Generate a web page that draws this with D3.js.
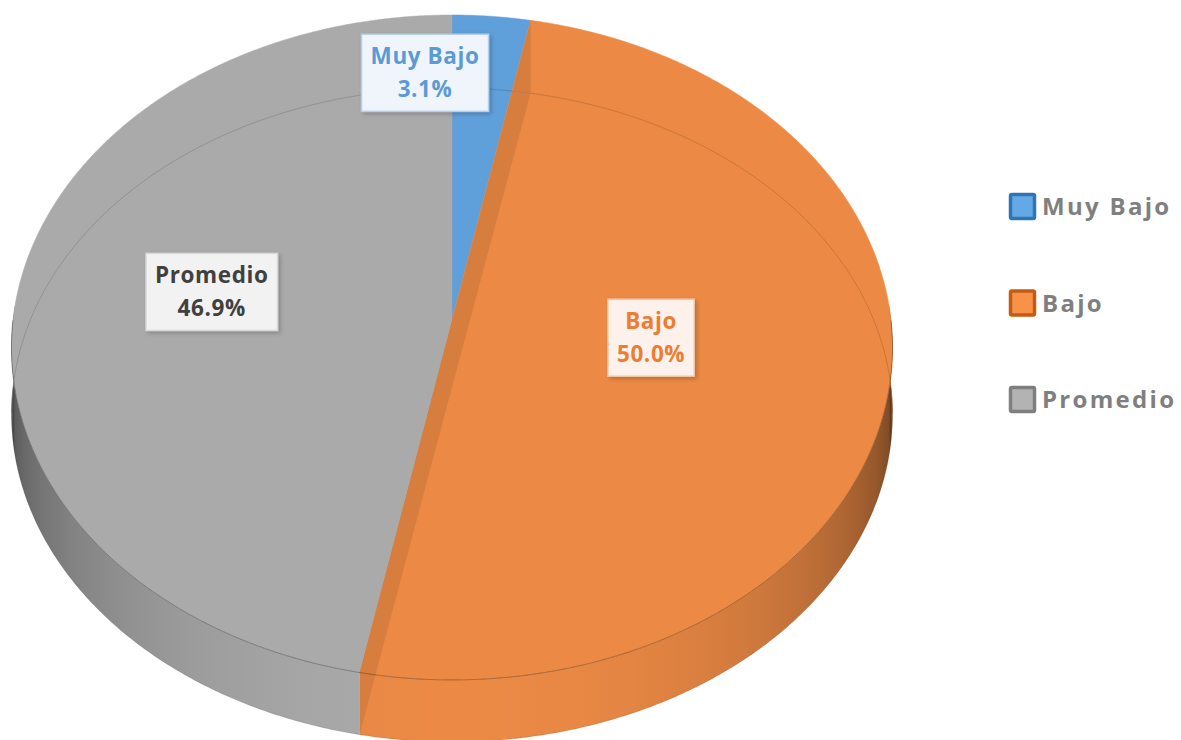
<!DOCTYPE html>
<html>
<head>
<meta charset="utf-8">
<script src="https://cdn.jsdelivr.net/npm/d3@7"></script>
<style>
  html, body { margin: 0; background: #ffffff; }
  svg { display: block; }
</style>
</head>
<body>
<svg id="chart" width="1181" height="740"></svg>
<script>
// ---- data ----
const categories = ["Muy Bajo", "Bajo", "Promedio"];
const percentages = [3.1, 50.0, 46.9];

// ---- styling ----
const sliceColors  = ["#5F9FDA", "#EC8A45", "#AAAAAA"];
const labelInk     = ["#5B9BD5", "#ED7D31", "#404040"];
const labelFill    = ["#F0F5FB", "#FDF2EB", "#F2F2F2"];
const labelBorder  = ["#B5D1EC", "#F5C6A4", "#D9D9D9"];
const legendStroke = ["#2E75B6", "#C55A11", "#7F7F7F"];
const FONT = "'Open Sans', 'DejaVu Sans', sans-serif";

const svg = d3.select("#chart");

// ---- tilted disc in perspective ----
// theta: clockwise from 12 o'clock, r: 0..1, level: 0 = top face, 1 = bottom face
const geo = { cx: 452, cy: 320, A: 439, B: 330.2, c: 0.0826, dropMid: 67.5, dropSlope: 5.5 };
function proj(theta, r, level) {
  const u = r * Math.sin(theta), v = r * Math.cos(theta);
  const d = 1 + geo.c * v;
  const drop = level ? level * (geo.dropMid + geo.dropSlope * v) : 0;
  return [geo.cx + geo.A * u / d, geo.cy - geo.B * v / d + drop];
}
function unproj(x, y) {
  const Y = (geo.cy - y) / geo.B, X = (x - geo.cx) / geo.A;
  const v = Y / (1 - geo.c * Y);
  const u = X * (1 + geo.c * v);
  let t = Math.atan2(u, v);
  if (t < 0) t += 2 * Math.PI;
  return t;
}
function arcPts(a0, a1, r, level) {
  const n = Math.max(2, Math.ceil((a1 - a0) / (Math.PI / 360)));
  return d3.range(n + 1).map(i => proj(a0 + (a1 - a0) * i / n, r, level));
}

const arcs = d3.pie().sort(null).value(d => d)(percentages);
const line = d3.line();
const sliceAt = t => arcs.findIndex(a => t >= a.startAngle && t < a.endAngle);

const defs = svg.append("defs");
const shadow = defs.append("filter").attr("id", "boxShadow")
  .attr("x", "-20%").attr("y", "-20%").attr("width", "150%").attr("height", "150%");
shadow.append("feDropShadow").attr("dx", 2).attr("dy", 2).attr("stdDeviation", 2.2)
  .attr("flood-color", "#000").attr("flood-opacity", 0.22);

// ---- outer side wall: horizontal gradient, darker where the wall turns away ----
const xL = proj(3 * Math.PI / 2 - 0.08, 1, 0)[0] - 2, xR = proj(Math.PI / 2 + 0.08, 1, 0)[0] + 2;
function shadeK(theta) {
  const s = Math.max(0, Math.min(1, (-Math.cos(theta) + 0.08) / 1.08));
  return 0.30 + 0.70 * Math.pow(s, 0.8);
}
const shadeStops = d3.range(0, 181, 3).map(deg => {
  const t = Math.PI / 2 + deg * Math.PI / 180;
  const x = proj(t, 1, 0)[0];
  return { off: Math.max(0, Math.min(1, (x - xL) / (xR - xL))), k: shadeK(t) };
}).sort((p, q) => p.off - q.off);
sliceColors.forEach((col, i) => {
  const g = defs.append("linearGradient").attr("id", "side" + i)
    .attr("gradientUnits", "userSpaceOnUse")
    .attr("x1", xL).attr("x2", xR).attr("y1", 0).attr("y2", 0);
  const b = d3.rgb(col);
  g.selectAll("stop").data(shadeStops).join("stop")
    .attr("offset", s => s.off)
    .attr("stop-color", s => d3.rgb(b.r * s.k, b.g * s.k, b.b * s.k).formatHex());
});
const frontLo = Math.acos(0.05), frontHi = 2 * Math.PI - Math.acos(0.05);
const sides = arcs.map((a, i) => ({ i, t0: Math.max(a.startAngle, frontLo), t1: Math.min(a.endAngle, frontHi) }))
  .filter(s => s.t1 > s.t0);
svg.append("g").selectAll("path").data(sides).join("path")
  .attr("d", s => line([...arcPts(s.t0, s.t1, 1, 0), ...arcPts(s.t0, s.t1, 1, 1).reverse()]) + "Z")
  .attr("fill", s => `url(#side${s.i})`);

// ---- top faces ----
svg.append("g").selectAll("path").data(arcs).join("path")
  .attr("d", a => line([proj(0, 0, 0), ...arcPts(a.startAngle, a.endAngle, 1, 0)]) + "Z")
  .attr("fill", (a, i) => sliceColors[i])
  .attr("stroke", (a, i) => sliceColors[i])
  .attr("stroke-width", 0.5);

// ---- bottom rim of the far wall, showing faintly through the top ----
svg.append("g").selectAll("path").data(arcs).join("path")
  .attr("d", a => {
    const seg = [];
    const n = Math.max(2, Math.ceil((a.endAngle - a.startAngle) / (Math.PI / 360)));
    for (let k = 0; k <= n; k++) {
      const t = a.startAngle + (a.endAngle - a.startAngle) * k / n;
      seg.push(Math.cos(t) > -geo.c ? proj(t, 1, 1) : null);
    }
    return d3.line().defined(p => p)(seg);
  })
  .attr("fill", "none")
  .attr("stroke", (a, i) => d3.rgb(sliceColors[i]).darker(0.8))
  .attr("stroke-opacity", 0.6)
  .attr("stroke-width", 1);

// ---- radial walls seen through the top ----
const walls = arcs.map(a => a.startAngle);
svg.append("g").selectAll("path").data(walls).join("path")
  .attr("d", t => line([proj(t, 0, 0), proj(t, 1, 0), proj(t, 1, 1), proj(t, 0, 1)]) + "Z")
  .attr("fill", t => {
    const m = proj(t, 0.5, 0.5);
    const j = sliceAt(unproj(m[0], m[1]));
    return d3.rgb(sliceColors[j < 0 ? 0 : j]).darker(0.35);
  })
  .attr("fill-opacity", 0.75);

// ---- rim outlines ----
svg.append("path")
  .attr("d", line(arcPts(Math.PI / 2, 3 * Math.PI / 2, 1, 0)))
  .attr("fill", "none").attr("stroke", "#000").attr("stroke-opacity", 0.3).attr("stroke-width", 1);
svg.append("path")
  .attr("d", line(arcPts(Math.PI / 2, 3 * Math.PI / 2, 1, 1)))
  .attr("fill", "none").attr("stroke", "#000").attr("stroke-opacity", 0.12).attr("stroke-width", 1);

// ---- data labels ----
const labelSpots = [
  { r: 0.8,  dx: -59, dy: -1 },
  { r: 0.5,  dx: -18, dy: -15 },
  { r: 0.55, dx: -1,  dy: -11 }
];
const fmt = d3.format(".1f");
const labels = svg.append("g").selectAll("g").data(arcs).join("g")
  .attr("transform", (a, i) => {
    const mid = (a.startAngle + a.endAngle) / 2;
    const p = proj(mid, labelSpots[i].r, 0);
    return `translate(${p[0] + labelSpots[i].dx},${p[1] + labelSpots[i].dy})`;
  });
labels.append("rect")
  .attr("fill", (a, i) => labelFill[i])
  .attr("stroke", (a, i) => labelBorder[i])
  .attr("stroke-width", 1.5)
  .attr("filter", "url(#boxShadow)");
labels.append("text")
  .attr("text-anchor", "middle")
  .attr("font-family", FONT).attr("font-weight", 700).attr("font-size", 22.5)
  .attr("letter-spacing", 0.6)
  .attr("fill", (a, i) => labelInk[i])
  .call(t => t.append("tspan").attr("x", 0).attr("y", -8).text((a, i) => categories[i]))
  .call(t => t.append("tspan").attr("x", 0).attr("y", 25).text(a => fmt(a.data) + "%"));
labels.each(function () {
  const g = d3.select(this);
  const bb = g.select("text").node().getBBox();
  g.select("rect")
    .attr("x", bb.x - 9).attr("width", bb.width + 18)
    .attr("y", -38).attr("height", 77);
});

// ---- legend ----
const legend = svg.append("g").attr("transform", "translate(1009,206)");
const items = legend.selectAll("g").data(categories).join("g")
  .attr("transform", (d, i) => `translate(0,${i * 96.5})`);
items.append("rect")
  .attr("x", 1.5).attr("y", -11.5).attr("width", 24).attr("height", 24).attr("rx", 1.5)
  .attr("fill", (d, i) => d3.rgb(sliceColors[i]).brighter(0.15))
  .attr("stroke", (d, i) => legendStroke[i])
  .attr("stroke-width", 3.5);
items.append("text")
  .attr("x", 33).attr("y", 1).attr("dy", "0.35em")
  .attr("font-family", FONT).attr("font-weight", 700).attr("font-size", 24)
  .attr("letter-spacing", 2.3)
  .attr("fill", "#7F7F7F")
  .text(d => d);
</script>
</body>
</html>
